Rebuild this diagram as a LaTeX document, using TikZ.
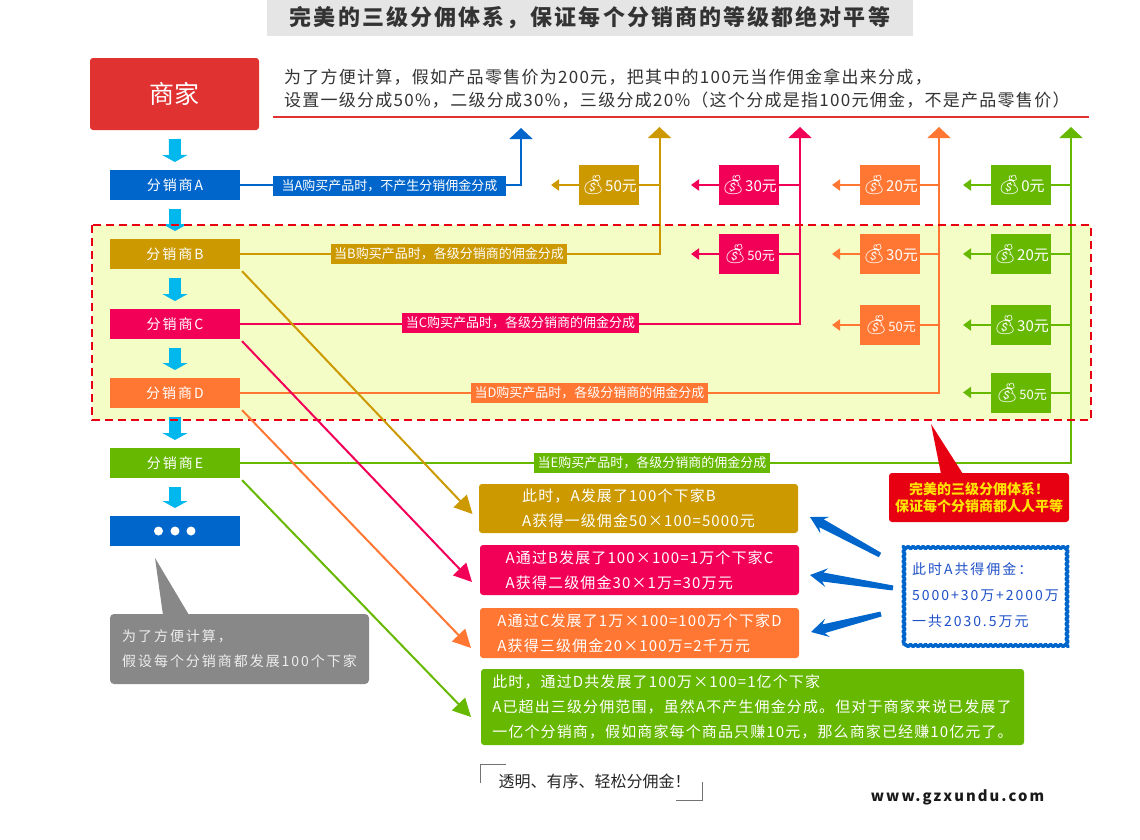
\documentclass[tikz,border=0pt]{standalone}
\usepackage{fontspec}
\setmainfont{Noto Sans CJK SC}
\newfontfamily\spaced[LetterSpace=7.5]{Noto Sans CJK SC}
\newfontfamily\wider[LetterSpace=14]{Noto Sans CJK SC}
\newfontfamily\headface[LetterSpace=9.5]{Noto Sans CJK SC}
\newfontfamily\bagface{Noto Emoji}
\usepackage{xcolor}
\usetikzlibrary{positioning}
\usetikzlibrary{calc}
\usetikzlibrary{arrows.meta}
\usetikzlibrary{decorations.pathmorphing}
\definecolor{shopred}{HTML}{E13232}
\definecolor{tierA}{HTML}{0066CC}
\definecolor{tierB}{HTML}{CC9900}
\definecolor{tierC}{HTML}{F20058}
\definecolor{tierD}{HTML}{FF7733}
\definecolor{tierE}{HTML}{66B800}
\definecolor{flowblue}{HTML}{00B7EE}
\definecolor{zonefill}{HTML}{F4FDC6}
\definecolor{zonered}{HTML}{E60012}
\definecolor{notegrey}{HTML}{888888}
\definecolor{totalblue}{HTML}{1E50C8}
\tikzset{
	every node/.style={inner sep=0pt,outer sep=0pt},
	dealer/.style={minimum width=130pt,minimum height=30pt,text=white,font=\fontsize{14}{14}\selectfont\wider},
	flow/.style={draw=flowblue,line width=12pt,shorten <=9pt,shorten >=8pt,-{Triangle[width=25pt,length=7pt]}},
	riser/.style={line width=2pt,-{Triangle[width=23pt,length=11pt]}},
	diag/.style={line width=2pt,shorten <=3pt,-{Triangle[width=18pt,length=18pt]}},
	stub/.style={line width=2pt},
	payout/.style={stub,-{Triangle[width=11pt,length=8pt]}},
	linklabel/.style={text=white,inner xsep=3.5pt,minimum height=20pt,font=\fontsize{13}{13}\selectfont},
	paybox/.style={minimum width=60pt,minimum height=40pt,text=white},
	infobox/.style={rounded corners=3pt,text=white,align=left,font=\fontsize{15}{25}\selectfont\spaced},
	wedge/.style={fill=tierA,draw=none}
}
% tapered arrow: from tail to tip
\newcommand{\wedgearrow}[2]{
	\fill[wedge] ($(#1)!2.5pt!90:(#2)$) -- ($(#2)!13pt!(#1)!4.5pt!-90:(#1)$) -- ($(#2)!17pt!(#1)!9.5pt!-90:(#1)$) -- (#2)
		-- ($(#2)!17pt!(#1)!9.5pt!90:(#1)$) -- ($(#2)!13pt!(#1)!4.5pt!90:(#1)$) -- ($(#1)!2.5pt!-90:(#2)$) -- cycle;
}
\begin{document}
\begin{tikzpicture}[x=1pt,y=-1pt]
	\useasboundingbox (0,0) rectangle (1140,839);

	% heading
	\node (title) [fill=black!10,minimum width=646pt,minimum height=36pt,text=black!80,font=\fontsize{22}{22}\selectfont\headface\bfseries] at (590,18) {完美的三级分佣体系，保证每个分销商的等级都绝对平等};
	\node (intro) [anchor=west,align=left,text=black!80,font=\fontsize{17}{23}\selectfont\spaced] at (284,88.5) {为了方便计算，假如产品零售价为200元，把其中的100元当作佣金拿出来分成，\\设置一级分成50\%，二级分成30\%，三级分成20\%（这个分成是指100元佣金，不是产品零售价）};
	\coordinate (ruleL) at (273,117);
	\coordinate (ruleR) at (1089,117);
	\draw[shopred,line width=2pt] (ruleL) -- (ruleR);

	% three level zone
	\node (zone) [fill=zonefill,minimum width=999pt,minimum height=195pt] at (591.5,322.5) {};

	% shop and dealers
	\node (shop) [fill=shopred,rounded corners=3pt,minimum width=169pt,minimum height=72pt,text=white,font=\fontsize{25}{25}\selectfont] at (174.5,94) {商家};
	\node (dealerA) [dealer,fill=tierA] at (175,185) {分销商A};
	\node (dealerB) [dealer,fill=tierB] at (175,254) {分销商B};
	\node (dealerC) [dealer,fill=tierC] at (175,324) {分销商C};
	\node (dealerD) [dealer,fill=tierD] at (175,393) {分销商D};
	\node (dealerE) [dealer,fill=tierE] at (175,463) {分销商E};
	\node (more) [dealer,fill=tierA] at (175,531) {};
	\foreach \dx in {-16.5,0,16}
		\fill[white] ($(more)+(\dx,0)$) circle (4.5pt);

	\draw[flow] (shop) -- (dealerA);
	\draw[flow] (dealerA) -- (dealerB);
	\draw[flow] (dealerB) -- (dealerC);
	\draw[flow] (dealerC) -- (dealerD);
	\draw[flow] (dealerD) -- (dealerE);
	\draw[flow] (dealerE) -- (more);

	% tops of the risers
	\coordinate (topA) at (521,128);
	\coordinate (topB) at (659.5,127);
	\coordinate (topC) at (800,127);
	\coordinate (topD) at (939,127);
	\coordinate (topE) at (1071,127);

	\draw[riser,draw=tierA] (dealerA.east) -| (topA);
	\draw[riser,draw=tierB] (dealerB.east) -| (topB);
	\draw[riser,draw=tierC] (dealerC.east) -| (topC);
	\draw[riser,draw=tierD] (dealerD.east) -| (topD);
	\draw[riser,draw=tierE] (dealerE.east) -| (topE);

	\node (labelA) [linklabel,inner xsep=9pt,fill=tierA] at (389.5,185.5) {当A购买产品时，不产生分销佣金分成};
	\node (labelB) [linklabel,fill=tierB] at (449,254) {当B购买产品时，各级分销商的佣金分成};
	\node (labelC) [linklabel,fill=tierC] at (520.5,323) {当C购买产品时，各级分销商的佣金分成};
	\node (labelD) [linklabel,fill=tierD] at (589.5,393) {当D购买产品时，各级分销商的佣金分成};
	\node (labelE) [linklabel,fill=tierE] at (652,462.5) {当E购买产品时，各级分销商的佣金分成};

	% money boxes
	\foreach \boxname/\bx/\by/\col/\riser/\amt/\fs in {
		bagB1/609/185/tierB/topB/50/15, bagC1/749/185/tierC/topC/30/15,
		bagD1/890/185/tierD/topD/20/15, bagE1/1021/185/tierE/topE/0/15,
		bagC2/749/254/tierC/topC/50/13, bagD2/890/254/tierD/topD/30/15,
		bagE2/1021/254/tierE/topE/20/15, bagD3/890/325/tierD/topD/50/13,
		bagE3/1021/325/tierE/topE/30/15, bagE4/1021/392.5/tierE/topE/50/13}{
		\node (\boxname) [paybox,fill=\col] at (\bx,\by) {{\bagface\fontsize{19}{19}\selectfont 💰}{\fontsize{\fs}{\fs}\selectfont\amt 元}};
		\coordinate [left=28pt of \boxname] (\boxname end);
		\draw[stub,draw=\col] (\boxname.east) -- (\boxname.east -| \riser);
		\draw[payout,draw=\col] (\boxname.west) -- (\boxname end);
	}

	% dashed edge goes over the arrows
	\draw[zonered,line width=2pt,dash pattern=on 8pt off 5pt] (zone.north west) rectangle (zone.south east);

	% info boxes
	\node (infoB) [infobox,fill=tierB,minimum width=319pt,minimum height=49pt] at (638.5,508.5) {此时，A发展了100个下家B\\A获得一级佣金50×100=5000元};
	\node (infoC) [infobox,fill=tierC,minimum width=319pt,minimum height=50pt] at (639.5,570) {A通过B发展了100×100=1万个下家C\\A获得二级佣金30×1万=30万元};
	\node (infoD) [infobox,fill=tierD,minimum width=319pt,minimum height=50pt] at (639.5,633) {A通过C发展了1万×100=100万个下家D\\A获得三级佣金20×100万=2千万元};
	\node (infoE) [infobox,fill=tierE,minimum width=543pt,minimum height=76pt] at (752.5,707) {此时，通过D共发展了100万×100=1亿个下家\\A已超出三级分佣范围，虽然A不产生佣金分成。但对于商家来说已发展了\\一亿个分销商，假如商家每个商品只赚10元，那么商家已经赚10亿元了。};

	\coordinate (tipB) at (472.5,514);
	\coordinate (tipC) at (472,582);
	\coordinate (tipD) at (471,648);
	\coordinate (tipE) at (471,717);
	\draw[diag,draw=tierB] (dealerB.south east) -- (tipB);
	\draw[diag,draw=tierC] (dealerC.south east) -- (tipC);
	\draw[diag,draw=tierD] (dealerD.south east) -- (tipD);
	\draw[diag,draw=tierE] (dealerE.south east) -- (tipE);

	% grey note
	\node (note) [fill=notegrey,rounded corners=4pt,minimum width=259pt,minimum height=70pt,text=white!93!black,align=left,font=\fontsize{14}{25}\selectfont\wider] at (239.5,649) {为了方便计算，\\假设每个分销商都发展100个下家};
	\coordinate (noteTip) at (155,558);
	\fill[notegrey] (noteTip) -- ($(note.north west)+(53,1)$) -- ($(note.north west)+(79,1)$) -- cycle;

	% red note
	\node (slogan) [fill=zonered,rounded corners=3pt,minimum width=180pt,minimum height=49pt,text=yellow!85!orange,align=center,font=\fontsize{14}{17}\selectfont\bfseries] at (979,497.5) {完美的三级分佣体系！\\保证每个分销商都人人平等};
	\coordinate (sloganTip) at (931,424);
	\fill[zonered] (sloganTip) -- ($(slogan.north west)+(52,1)$) -- ($(slogan.north west)+(74,1)$) -- cycle;

	% total
	\node (total) [draw=tierA,fill=white,line width=3.5pt,line join=round,decorate,decoration={snake,segment length=5pt,amplitude=1pt},minimum width=163pt,minimum height=101pt,text=totalblue,align=left,font=\fontsize{14}{26}\selectfont\wider] at (985.5,595) {此时A共得佣金：\\5000+30万+2000万\\一共2030.5万元};
	\coordinate (tailB) at (880,555);
	\coordinate (headB) at (810,517);
	\coordinate (tailC) at (893,588);
	\coordinate (headC) at (810,575);
	\coordinate (tailD) at (881,614);
	\coordinate (headD) at (811,632);
	\wedgearrow{tailB}{headB}
	\wedgearrow{tailC}{headC}
	\wedgearrow{tailD}{headD}

	% closing line
	\node (motto) [text=black!85,font=\fontsize{16}{16}\selectfont] at (594.5,781.5) {透明、有序、轻松分佣金！};
	\coordinate (quoteA) at (480,783);
	\coordinate (quoteB) at (480,764);
	\coordinate (quoteC) at (506,764);
	\coordinate (quoteD) at (702,782);
	\coordinate (quoteE) at (702,800);
	\coordinate (quoteF) at (676,800);
	\draw[black!55,line width=1pt] (quoteA) -- (quoteB) -- (quoteC);
	\draw[black!55,line width=1pt] (quoteD) -- (quoteE) -- (quoteF);
	\node (site) [text=black!90,font=\fontsize{14.8}{14.8}\selectfont\wider\bfseries] at (957.5,797) {www.gzxundu.com};
\end{tikzpicture}
\end{document}
